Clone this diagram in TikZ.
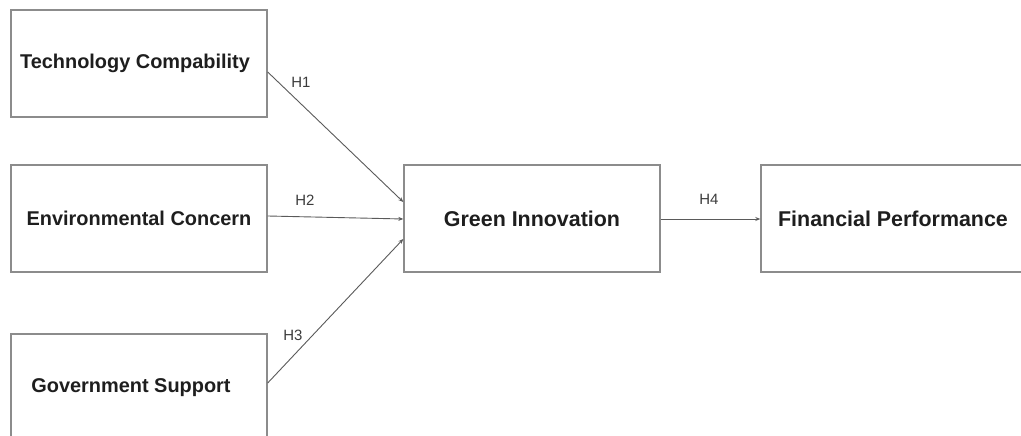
\documentclass[tikz,border=0pt]{standalone}
\usepackage{fontspec}
\setmainfont{Liberation Sans}
\usetikzlibrary{arrows.meta}
\definecolor{boxgray}{HTML}{8C8C8C}
\definecolor{linegray}{HTML}{5A5A5A}
\definecolor{txt}{HTML}{1E1E1E}
\definecolor{lbltxt}{HTML}{3C3C3C}
\tikzset{
  box/.style={draw=boxgray, line width=1.4bp, fill=white, minimum width=256bp, minimum height=107bp, inner sep=0pt, text=txt, font=\bfseries\fontsize{20}{24}\selectfont},
  bigbox/.style={box, font=\bfseries\fontsize{21.5}{26}\selectfont},
  conn/.style={draw=linegray, line width=0.9bp, -{Stealth[length=5bp,width=4bp]}},
  lbl/.style={text=lbltxt, font=\fontsize{15}{18}\selectfont, inner sep=0pt}
}
\begin{document}
\begin{tikzpicture}[x=1bp,y=-1bp]
\useasboundingbox[fill=white] (0,0) rectangle (1021,436);
\node[box] (tc) at (139,63.5) {Technology Compability\hspace*{8bp}};
\node[box] (ec) at (139,218.5) {Environmental Concern};
\node[box] (gs) at (139,387.5) {Government Support\hspace*{16bp}};
\node[bigbox] (gi) at (532,218.5) {Green Innovation};
\node[bigbox, minimum width=264bp] (fp) at (893,218.5) {Financial Performance};
\draw[conn] ([yshift=-8.5bp]tc.east) -- ([yshift=16.5bp]gi.west);
\draw[conn] ([yshift=2.5bp]ec.east) -- ([yshift=-0.5bp]gi.west);
\draw[conn] ([yshift=4.5bp]gs.east) -- ([yshift=-20.5bp]gi.west);
\draw[conn] ([yshift=-0.5bp]gi.east) -- ([yshift=-0.5bp]fp.west);
\node[lbl] (h1) at (301,82) {H1};
\node[lbl] (h2) at (305,200) {H2};
\node[lbl] (h3) at (293,335) {H3};
\node[lbl] (h4) at (709,199) {H4};
\end{tikzpicture}
\end{document}
